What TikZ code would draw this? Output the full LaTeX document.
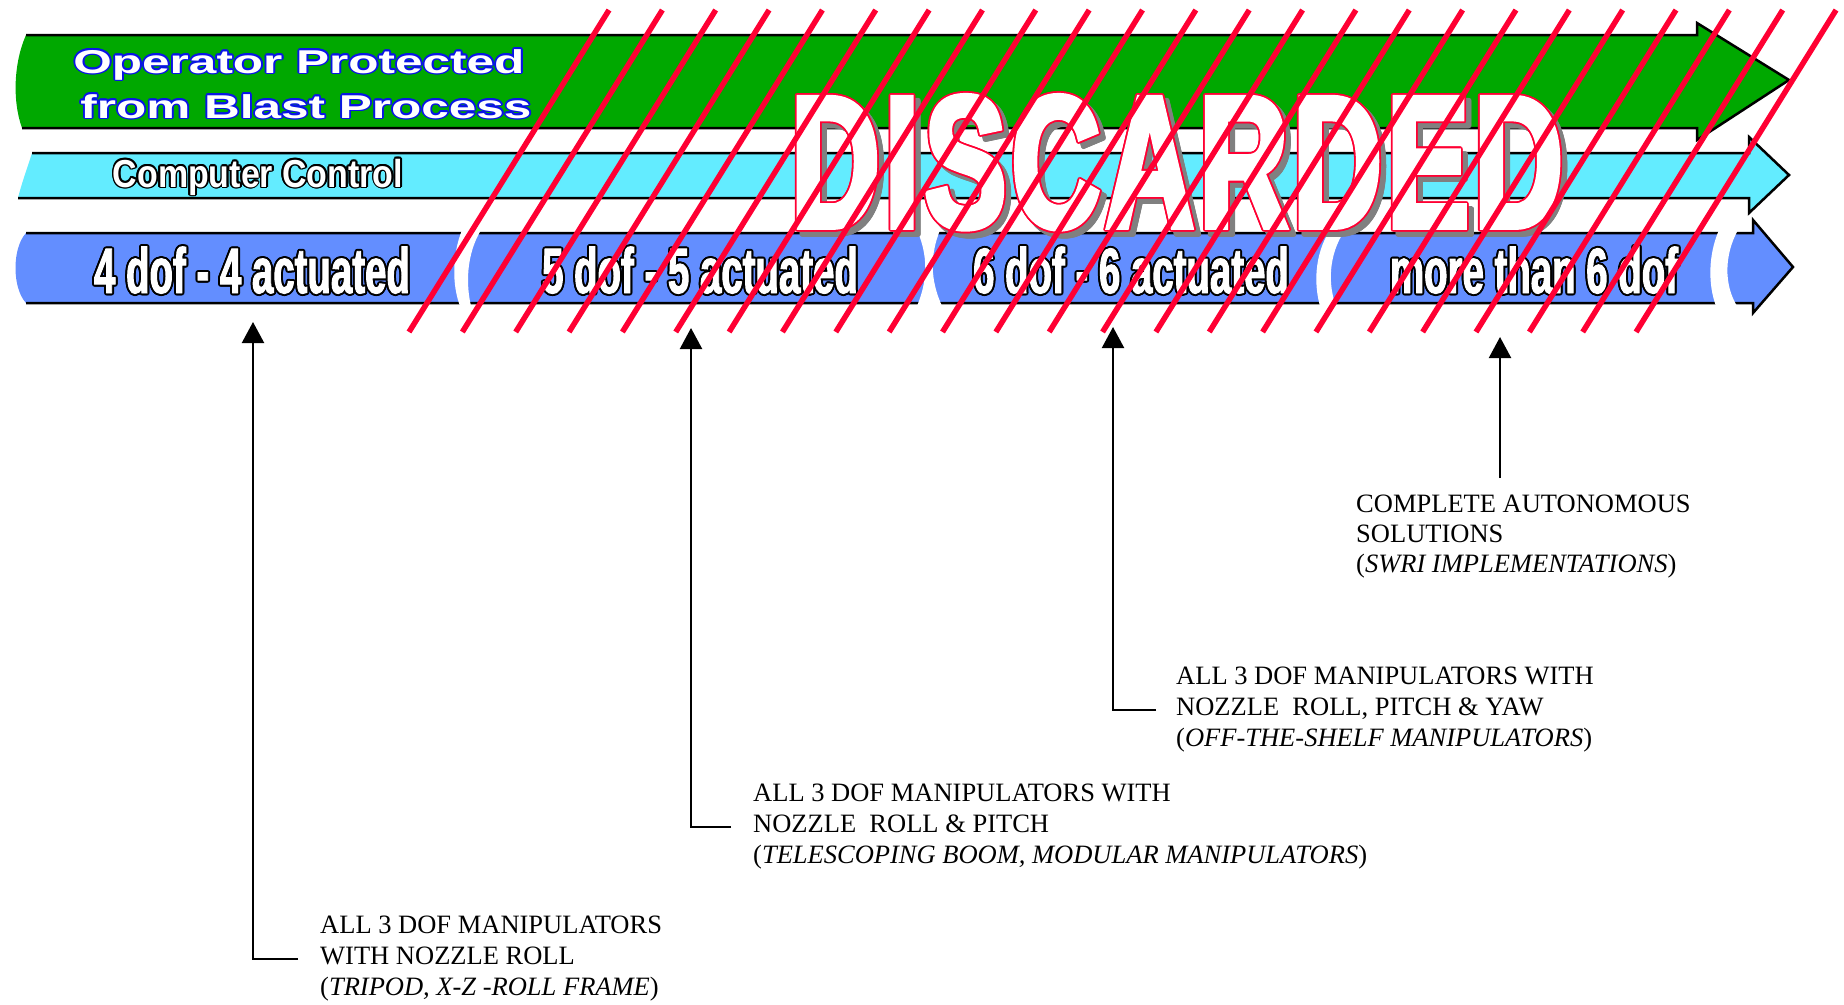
\documentclass[tikz,border=0pt]{standalone}
\usepackage{fontspec}
\setmainfont{Liberation Serif}
\newfontfamily\wideface{Liberation Sans}[FakeStretch=1.5]
\newfontfamily\midface{Liberation Sans}[FakeStretch=0.87]
\newfontfamily\slimface{Liberation Sans}[FakeStretch=0.6,FakeBold=1.5]
\newfontfamily\hugeface{Liberation Sans}[FakeStretch=0.65,FakeBold=3,LetterSpace=3]
\usetikzlibrary{arrows.meta}
\definecolor{barGreen}{RGB}{0,168,0}
\definecolor{barCyan}{RGB}{99,236,255}
\definecolor{barBlue}{RGB}{99,142,255}
\definecolor{hatchRed}{RGB}{255,0,51}
\definecolor{ringBlue}{RGB}{10,20,230}
\definecolor{shadeGray}{RGB}{128,128,128}
% text with a coloured ring round it
\newcommand\ringtext[3]{%
  \foreach \ang in {0,30,...,330}{%
    \pgfmathsetmacro\rdx{#2*cos(\ang)}%
    \pgfmathsetmacro\rdy{#2*sin(\ang)}%
    \rlap{\kern\rdx pt\raisebox{\rdy pt}{\color{#1}#3}}%
  }%
  #3}
\begin{document}
\begin{tikzpicture}[x=1pt,y=-1pt,
  barline/.style={line width=2.5pt,line join=miter},
  hatch/.style={draw=hatchRed,line width=5.5pt},
  pointer/.style={line width=2.2pt,-{Triangle[width=22pt,length=21pt]}},
  note/.style={inner sep=0pt,align=left,anchor=west,font=\fontsize{26.5}{31}\selectfont},
  bartext/.style={inner sep=0pt,anchor=base,text=white}]
  \useasboundingbox (0,0) rectangle (1844,1004);

  % bands
  \fill[barGreen] (26,35) -- (1697,35) -- (1697,23) -- (1789,80) -- (1697,140) -- (1697,128)
    -- (22,128) .. controls (12,100) and (14,62) .. (26,35) -- cycle;
  \draw[barline] (26,35) -- (1697,35) -- (1697,23) -- (1789,80) -- (1697,140) -- (1697,128) -- (22,128);
  \fill[barCyan] (32,153) -- (1749,153) -- (1749,137) -- (1789,175) -- (1749,213) -- (1749,198)
    -- (18,198) .. controls (22,182) and (28,166) .. (32,153) -- cycle;
  \draw[barline] (32,153) -- (1749,153) -- (1749,137) -- (1789,175) -- (1749,213) -- (1749,198) -- (18,198);
  \fill[barBlue] (26,233) -- (1753,233) -- (1753,220) -- (1793,267) -- (1753,313) -- (1753,303)
    -- (26,303) .. controls (12,288) and (12,248) .. (26,233) -- cycle;
  \draw[barline] (26,233) -- (1753,233) -- (1753,220) -- (1793,267) -- (1753,313) -- (1753,303) -- (26,303);

  % breaks in the blue band
  \fill[white] (462,230) .. controls (452,255) and (452,285) .. (460,306) -- (471,306)
    .. controls (466,285) and (466,255) .. (481,230) -- cycle;
  \fill[white] (917,230) .. controls (928,255) and (928,280) .. (917,306) -- (942,306)
    .. controls (930,280) and (930,255) .. (940,230) -- cycle;
  \fill[white] (1330,230) .. controls (1314,255) and (1314,285) .. (1320,306) -- (1336,306)
    .. controls (1328,285) and (1328,255) .. (1345,230) -- cycle;
  \fill[white] (1719,230) .. controls (1708,255) and (1708,285) .. (1716,306) -- (1737,306)
    .. controls (1724,285) and (1724,255) .. (1738,230) -- cycle;

  \node[bartext,font=\wideface\bfseries\fontsize{33}{33}\selectfont] (op1) at (299,73) {\ringtext{ringBlue}{1.8}{Operator Protected}};
  \node[bartext,font=\wideface\bfseries\fontsize{33}{33}\selectfont] (op2) at (306,118) {\ringtext{ringBlue}{1.8}{from Blast Process}};
  \node[bartext,font=\midface\bfseries\fontsize{39}{39}\selectfont] (cc) at (258,187) {\ringtext{black}{1.8}{Computer Control}};
  \node[bartext,font=\slimface\bfseries\fontsize{64}{64}\selectfont] (dof4) at (252,293) {\ringtext{black}{2}{4 dof - 4 actuated}};
  \node[bartext,font=\slimface\bfseries\fontsize{64}{64}\selectfont] (dof5) at (700,293) {\ringtext{black}{2}{5 dof - 5 actuated}};
  \node[bartext,font=\slimface\bfseries\fontsize{64}{64}\selectfont] (dof6) at (1131,293) {\ringtext{black}{2}{6 dof - 6 actuated}};
  \node[bartext,font=\slimface\bfseries\fontsize{64}{64}\selectfont] (dofmore) at (1534,293) {\ringtext{black}{2}{more than 6 dof}};

  \node[bartext,font=\hugeface\bfseries\fontsize{188}{188}\selectfont] (discard) at (1177,227)
    {\rlap{\kern5pt\raisebox{-5pt}{\ringtext{shadeGray}{2}{\color{shadeGray}DISCARDED}}}\ringtext{hatchRed}{1.8}{DISCARDED}};

  % red hatching
  \foreach \i in {0,...,23}
    \draw[hatch] (409+53.35*\i,332) -- ++(200,-322);

  % notes
  \node[note] (lab1) at (320,959) {ALL 3 DOF MANIPULATORS\\WITH NOZZLE ROLL\\(\textit{TRIPOD, X-Z -ROLL FRAME})};
  \node[note] (lab2) at (753,827) {ALL 3 DOF MANIPULATORS WITH\\NOZZLE\ \ ROLL \& PITCH\\(\textit{TELESCOPING BOOM, MODULAR MANIPULATORS})};
  \node[note] (lab3) at (1176,710) {ALL 3 DOF MANIPULATORS WITH\\NOZZLE\ \ ROLL, PITCH \& YAW\\(\textit{OFF-THE-SHELF MANIPULATORS})};
  \node[note,font=\fontsize{26.5}{30}\selectfont] (lab4) at (1356,537) {COMPLETE AUTONOMOUS\\SOLUTIONS\\(\textit{SWRI IMPLEMENTATIONS})};

  \coordinate (tip1) at (253,322);
  \coordinate (tip2) at (691,328);
  \coordinate (tip3) at (1113,327);
  \coordinate (tip4) at (1500,337);
  \draw[pointer] ([xshift=-22pt]lab1.west) -| (tip1);
  \draw[pointer] ([xshift=-22pt]lab2.west) -| (tip2);
  \draw[pointer] ([xshift=-20pt]lab3.west) -| (tip3);
  \draw[pointer] (tip4 |- lab4.north) ++(0,-17) -- (tip4);
\end{tikzpicture}
\end{document}
